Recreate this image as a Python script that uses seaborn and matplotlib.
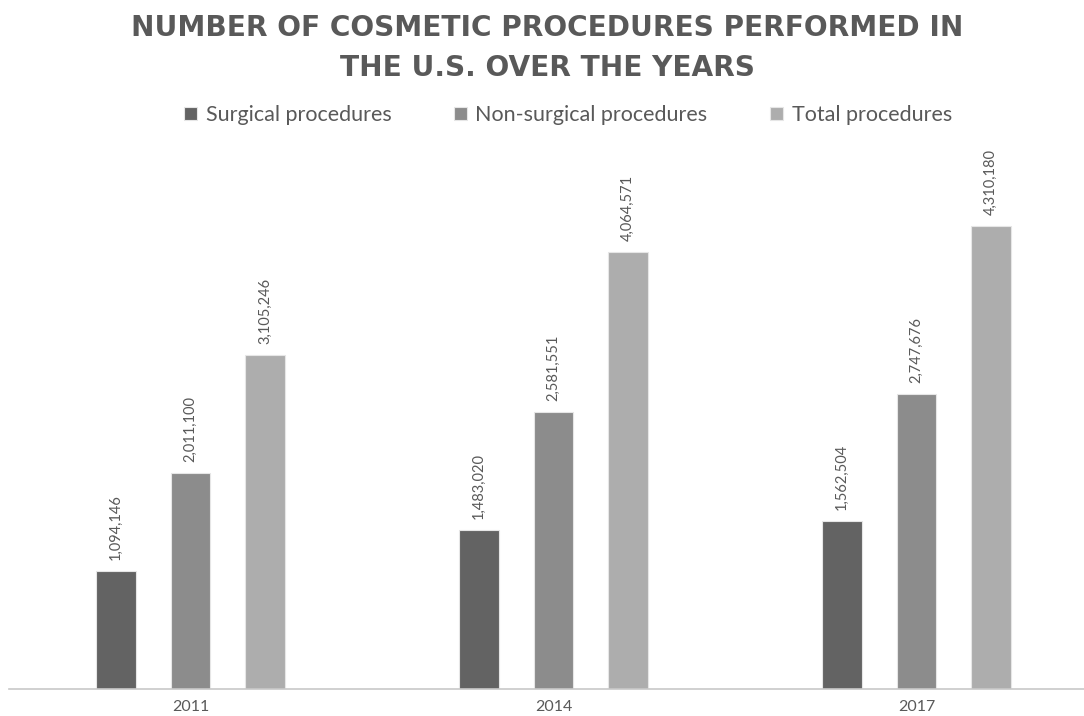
import matplotlib

matplotlib.use("Agg")
import matplotlib.pyplot as plt
import pandas as pd
import seaborn as sns

years = ["2011", "2014", "2017"]
series = ["Surgical procedures", "Non-surgical procedures", "Total procedures"]
surgical = [1094146, 1483020, 1562504]
non_surgical = [2011100, 2581551, 2747676]
total = [3105246, 4064571, 4310180]

colors = {
    "Surgical procedures": "#636363",
    "Non-surgical procedures": "#8c8c8c",
    "Total procedures": "#adadad",
}
text_color = "#595959"

frame = pd.DataFrame(
    {
        "year": years * 3,
        "series": [s for s in series for _ in years],
        "value": surgical + non_surgical + total,
    }
)

sns.set_theme(style="white")
plt.rcParams["font.family"] = ["Lato", "DejaVu Sans"]

fig = plt.figure(figsize=(10.84, 7.16), dpi=100)
ax = fig.add_axes([9 / 1084, (716 - 689) / 716, 1089 / 1084, (689 - 140) / 716])

sns.barplot(
    data=frame,
    x="year",
    y="value",
    hue="series",
    hue_order=series,
    order=years,
    palette=colors,
    width=0.616,
    gap=0.47,
    edgecolor="#e6e6e6",
    linewidth=0.8,
    ax=ax,
)

for container in ax.containers:
    ax.bar_label(
        container,
        labels=[f"{v:,.0f}" for v in container.datavalues],
        rotation=90,
        padding=8,
        fontsize=10.5,
        color=text_color,
    )

ax.set_xlim(-0.5, 2.5)
ax.set_ylim(0, 5.11e6)
ax.set_xlabel("")
ax.set_ylabel("")
ax.set_yticks([])
ax.tick_params(axis="x", length=0, pad=8, labelsize=11.5, labelcolor=text_color)
for side in ["top", "left", "right"]:
    ax.spines[side].set_visible(False)
ax.spines["bottom"].set_color("#c8c8c8")
ax.spines["bottom"].set_linewidth(1.2)

handles, labels = ax.get_legend_handles_labels()
ax.legend_.remove()
fig.legend(
    handles,
    labels,
    loc="center",
    bbox_to_anchor=(0.524, 1 - 115 / 716),
    ncol=3,
    frameon=False,
    fontsize=15.5,
    labelcolor=text_color,
    handlelength=0.6,
    handleheight=0.6,
    handletextpad=0.4,
    columnspacing=2.9,
)

fig.text(
    0.505,
    1 - 48 / 716,
    "NUMBER OF COSMETIC PROCEDURES PERFORMED IN\nTHE U.S. OVER THE YEARS",
    ha="center",
    va="center",
    fontsize=20.2,
    fontweight="bold",
    family=["DejaVu Sans"],
    color=text_color,
    linespacing=1.5,
)

fig.savefig("out.png", dpi=100, facecolor="white")
